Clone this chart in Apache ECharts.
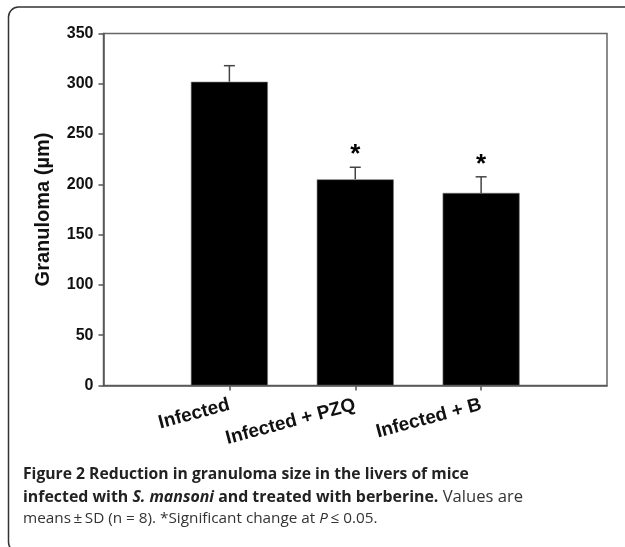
<!DOCTYPE html>
<html>
<head>
<meta charset="utf-8">
<script src="https://cdn.jsdelivr.net/npm/echarts@6/dist/echarts.min.js"></script>
<style>
html,body{margin:0;padding:0;background:#fff;}
#chart{width:625px;height:547px;}
</style>
</head>
<body>
<div id="chart"></div>
<script>
// Data
var categories = ['', 'Infected', 'Infected + PZQ', 'Infected + B', ''];
var means = ['-', 302, 205, 191.5, '-'];
var sds = [null, 16, 12, 16, null];
var marks = ['', '', '*', '*', ''];
var yTicks = [0, 50, 100, 150, 200, 250, 300, 350];

var errData = [];
for (var i = 0; i < categories.length; i++) {
  if (sds[i] != null) errData.push([i, means[i], sds[i], marks[i]]);
}

var chart = echarts.init(document.getElementById('chart'));
var axisColor = '#555';
var option = {
  animation: false,
  backgroundColor: '#fff',
  grid: {left: 103.5, top: 33.5, right: 18, bottom: 161.5, containLabel: false,
    show: true, borderColor: '#666', borderWidth: 1.5, backgroundColor: 'transparent'},
  xAxis: {
    type: 'category', data: categories, boundaryGap: false,
    axisLine: {lineStyle: {color: axisColor, width: 1.5}},
    axisTick: {show: true, length: 5, lineStyle: {color: axisColor, width: 1.5},
      interval: function (idx) { return idx > 0 && idx < categories.length - 1; }},
    axisLabel: {interval: 0, rotate: 15, margin: 19, fontFamily: 'Liberation Sans, Arial, sans-serif',
      fontWeight: 'bold', fontSize: 19, color: '#111'},
    splitLine: {show: false}
  },
  yAxis: {
    type: 'value', min: yTicks[0], max: yTicks[yTicks.length - 1], interval: 50,
    name: 'Granuloma (µm)', nameLocation: 'middle', nameGap: 50,
    nameTextStyle: {fontFamily: 'Liberation Sans, Arial, sans-serif', fontWeight: 'bold', fontSize: 20, color: '#111'},
    axisLine: {show: true, lineStyle: {color: axisColor, width: 1.5}},
    axisTick: {show: true, length: 5, lineStyle: {color: axisColor, width: 1.5}},
    axisLabel: {margin: 10, fontFamily: 'Liberation Sans, Arial, sans-serif', fontWeight: 'bold', fontSize: 16, color: '#111'},
    splitLine: {show: false}
  },
  series: [
    {
      type: 'bar', data: means, barWidth: 77,
      itemStyle: {color: '#000', borderColor: '#777', borderWidth: 0.6}
    },
    {
      type: 'custom', data: errData, z: 5,
      renderItem: function (params, api) {
        var x = api.value(0), m = api.value(1), s = api.value(2);
        var star = errData[params.dataIndex][3];
        var base = api.coord([x, m]);
        var top = api.coord([x, m + s]);
        var cw = 5.5;
        var children = [
          {type: 'line', shape: {x1: base[0], y1: base[1], x2: top[0], y2: top[1]}, style: {stroke: '#444', lineWidth: 1.5}},
          {type: 'line', shape: {x1: top[0] - cw, y1: top[1], x2: top[0] + cw, y2: top[1]}, style: {stroke: '#444', lineWidth: 1.5}}
        ];
        if (star) {
          children.push({type: 'text', x: top[0], y: top[1] + 1,
            style: {text: star, fontFamily: 'Liberation Sans, Arial, sans-serif', fontWeight: 'bold', fontSize: 26,
              fill: '#000', align: 'center', verticalAlign: 'bottom'}});
        }
        return {type: 'group', children: children};
      }
    }
  ],
  graphic: [
    {type: 'rect', shape: {x: 8.5, y: 7, width: 700, height: 545, r: 10},
      style: {fill: 'none', stroke: '#333', lineWidth: 1.5}, silent: true},
    {type: 'text', left: 23, top: 467, style: {
      text: '{b|Figure 2 Reduction in granuloma size in the livers of mice}',
      rich: {b: {fontFamily: 'Open Sans, sans-serif', fontWeight: 'bold', fontSize: 15.7, fill: '#222'}}}},
    {type: 'text', left: 23, top: 489, style: {
      text: '{b|infected with }{bi|S. mansoni}{b| and treated with berberine.}{n| Values are}',
      rich: {
        b: {fontFamily: 'Open Sans, sans-serif', fontWeight: 'bold', fontSize: 15.9, fill: '#222'},
        bi: {fontFamily: 'Open Sans, sans-serif', fontWeight: 'bold', fontStyle: 'italic', fontSize: 15.9, fill: '#222'},
        n: {fontFamily: 'Open Sans, sans-serif', fontSize: 16.6, fill: '#333'}}}},
    {type: 'text', left: 23, top: 511, style: {
      text: '{n|means\u2009±\u2009SD (n = 8). *Significant change at }{i|P}{n|\u2009≤ 0.05.}',
      rich: {
        n: {fontFamily: 'Open Sans, sans-serif', fontSize: 15.3, fill: '#333'},
        i: {fontFamily: 'Open Sans, sans-serif', fontStyle: 'italic', fontSize: 15.3, fill: '#333'}}}}
  ]
};
chart.setOption(option);
</script>
</body>
</html>
